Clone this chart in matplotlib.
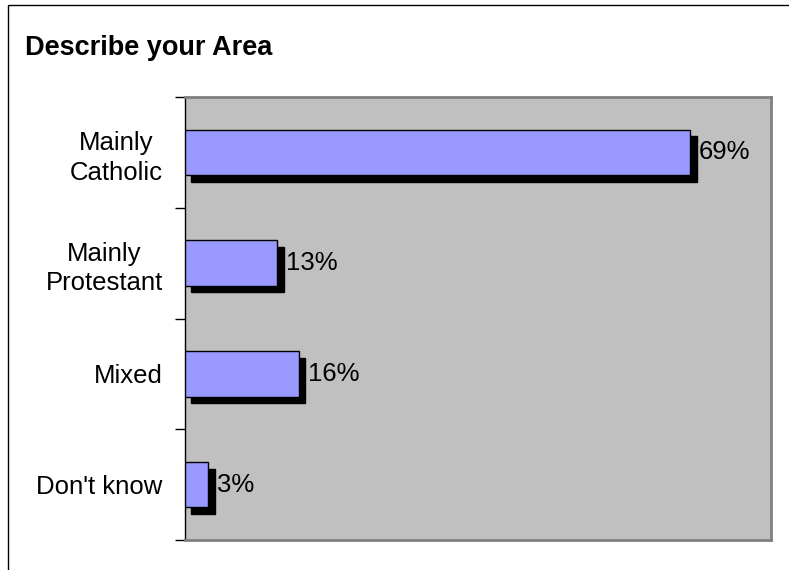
import matplotlib.pyplot as plt
from matplotlib.patches import Rectangle

categories = ['Mainly\nCatholic', 'Mainly\nProtestant', 'Mixed', "Don't know"]
values = [69.0, 12.6, 15.6, 3.2]
labels = ['69%', '13%', '16%', '3%']

fig = plt.figure(figsize=(7.89, 5.70), dpi=100)
fig.patch.set_facecolor('white')

# outer chart border
fig.patches.append(Rectangle((8 / 789, -0.1), 1.2, 1.1 - 5 / 570,
                             transform=fig.transFigure, fill=False,
                             edgecolor='black', linewidth=1.0))

fig.text(25 / 789, 1 - 48 / 570, 'Describe your Area', fontsize=19.5,
         fontweight='bold', va='center', ha='left', family='Liberation Sans')

ax = fig.add_axes([185 / 789, 1 - 540 / 570, (771 - 185) / 789, (540 - 97) / 570])
ax.set_facecolor('#C0C0C0')
ax.set_xlim(0, 80)
ax.set_ylim(len(categories) - 0.5, -0.5)

ypos = list(range(len(categories)))
bh = 0.41
dx, dy = 0.85, 0.06
# shadows
ax.barh([y + dy for y in ypos], values, left=dx, height=bh,
        color='black', edgecolor='black', zorder=2)
ax.barh(ypos, values, height=bh, color='#9999FF', edgecolor='black',
        linewidth=1.0, zorder=3)

fs = 18.5
for y, v, lab in zip(ypos, values, labels):
    ax.text(v + dx + 0.35, y, lab, va='center', ha='left', fontsize=fs,
            family='Liberation Sans', zorder=4)

ax.set_xticks([])
ax.set_yticks(ypos)
ax.set_yticklabels(categories, fontsize=fs, family='Liberation Sans',
                   ha='right', multialignment='center', linespacing=1.3)
ax.tick_params(axis='y', which='major', length=0, pad=16)
ax.set_yticks([y - 0.5 for y in range(len(categories) + 1)], minor=True)
ax.tick_params(axis='y', which='minor', length=7, width=1, color='black',
               direction='out')

for s in ['top', 'right', 'bottom']:
    ax.spines[s].set_color('#808080')
    ax.spines[s].set_linewidth(2)
ax.spines['left'].set_color('black')
ax.spines['left'].set_linewidth(1)

fig.savefig('out.png', dpi=100)
